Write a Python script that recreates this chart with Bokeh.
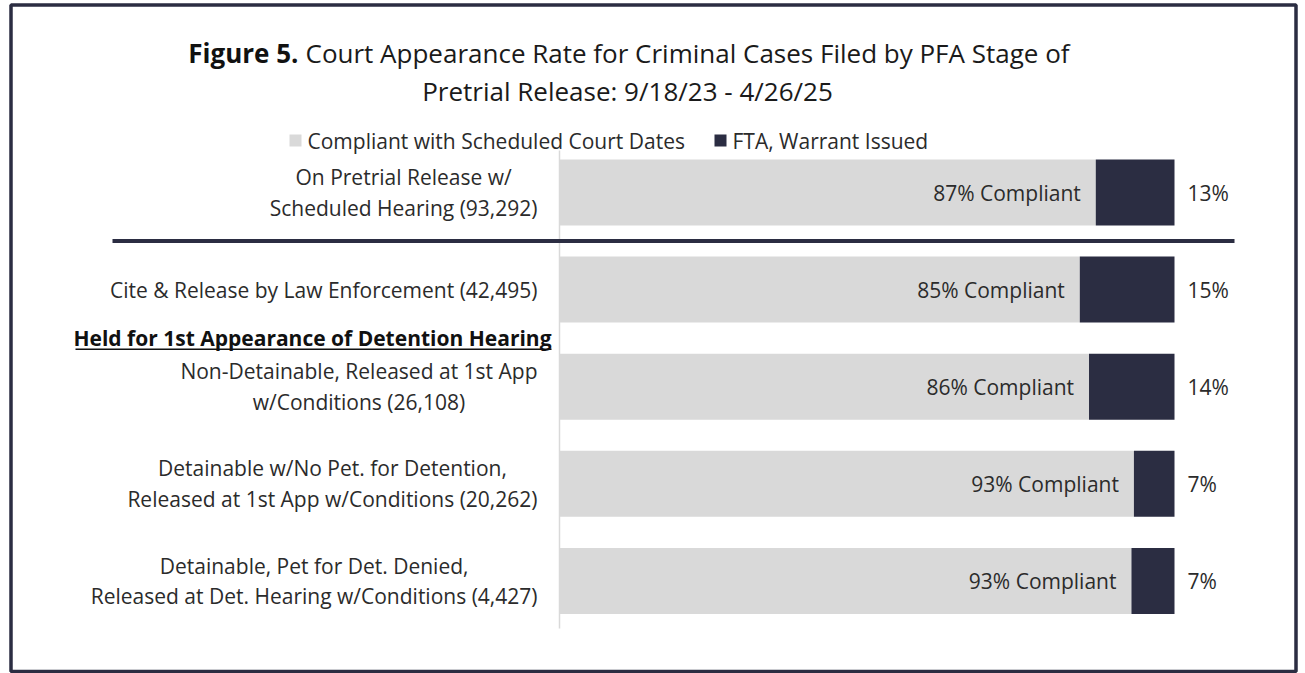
from bokeh.plotting import figure
from bokeh.models import Range1d, ColumnDataSource
from bokeh.core.properties import value
from bokeh.embed import file_html
from bokeh.resources import INLINE

# ---------------- data ----------------
categories = [
    "On Pretrial Release w/\nScheduled Hearing (93,292)",
    "Cite & Release by Law Enforcement (42,495)",
    "Non-Detainable, Released at 1st App\nw/Conditions (26,108)",
    "Detainable w/No Pet. for Detention,\nReleased at 1st App w/Conditions (20,262)",
    "Detainable, Pet for Det. Denied,\nReleased at Det. Hearing w/Conditions (4,427)",
]
compliant_pct = [87.2, 84.6, 86.1, 93.4, 93.0]
fta_pct = [12.8, 15.4, 13.9, 6.6, 7.0]
group_header = "Held for 1st Appearance of Detention Hearing"
legend_labels = ["Compliant with Scheduled Court Dates", "FTA, Warrant Issued"]
title_bold = "Figure 5."
title_rest = "Court Appearance Rate for Criminal Cases Filed by PFA Stage of"
title_line2 = "Pretrial Release: 9/18/23 - 4/26/25"

LIGHT = "#d9d9d9"
DARK = "#2b2d42"
TEXT = "#2b2b2b"
FONT = value("Open Sans")

# ---------------- geometry (pixel layout -> data mapping) ----------------
W, H = 1300, 673
X0_PX, PX_PER_PCT = 559.0, 6.15      # px of 0 %, px per %
Y0_PX, PX_PER_ROW = 192.0, 97.1      # px of row 0 centre, px per row


def dx(px):
    return (px - X0_PX) / PX_PER_PCT


def dy(py):
    return (py - Y0_PX) / PX_PER_ROW


x_range = Range1d(dx(0), dx(W))
y_range = Range1d(dy(H), dy(0))

p = figure(width=W, height=H, x_range=x_range, y_range=y_range,
           output_backend="svg", toolbar_location=None, min_border=0,
           x_axis_location=None, y_axis_location=None)
p.grid.grid_line_color = None
p.outline_line_color = None
p.background_fill_color = "white"
p.border_fill_color = "white"

rows = list(range(len(categories)))
ends = [c + f for c, f in zip(compliant_pct, fta_pct)]
src = ColumnDataSource(dict(
    row=rows,
    cat=categories,
    compliant=compliant_pct,
    fta=fta_pct,
    end=ends,
    comp_label=[f"{round(v)}% Compliant" for v in compliant_pct],
    fta_label=[f"{round(v)}%" for v in fta_pct],
))

# outer frame
p.quad(left=dx(10.5), right=dx(1295.5), top=dy(4.5), bottom=dy(671),
       fill_color=None, line_color=DARK, line_width=3.5)

# vertical axis line
p.segment(x0=0, x1=0, y0=dy(150), y1=dy(628), line_color=LIGHT, line_width=1.5)

# bars
p.hbar(y="row", left=0, right="compliant", height=0.68, source=src,
       fill_color=LIGHT, line_color=None)
p.hbar(y="row", left="compliant", right="end", height=0.68, source=src,
       fill_color=DARK, line_color=None)

# separator between first row and the rest
p.segment(x0=dx(112), x1=dx(1234), y0=0.5, y1=0.5, line_color=DARK,
          line_width=4, line_cap="butt")

# bar labels
p.text(x="compliant", y="row", text="comp_label", source=src, x_offset=-15,
       text_align="right", text_baseline="middle", text_font=FONT,
       text_font_size="21px", text_color=TEXT)
p.text(x="end", y="row", text="fta_label", source=src, x_offset=13,
       text_align="left", text_baseline="middle", text_font=FONT,
       text_font_size="21px", text_color=TEXT)

# category labels
p.text(x=dx(537), y="row", text="cat", source=src, anchor="center_right",
       text_align="center", text_baseline="middle", text_line_height=1.1,
       text_font=FONT, text_font_size="21px", text_color=TEXT)

# group header (bold, underlined)
p.text(x=[dx(551)], y=[1.5], text=[group_header], text_align="right",
       text_baseline="middle", text_font=FONT, text_font_size="21px",
       text_font_style="bold", text_color="#111111")
p.segment(x0=dx(75), x1=dx(551), y0=1.5 + 11 / PX_PER_ROW, y1=1.5 + 11 / PX_PER_ROW,
          line_color="#111111", line_width=1.5)

# title
p.text(x=[dx(298)], y=[dy(52)], text=[title_bold], text_align="right",
       text_baseline="middle", text_font=FONT, text_font_size="26px",
       text_font_style="bold", text_color="#111111")
p.text(x=[dx(305)], y=[dy(52)], text=[title_rest], text_align="left",
       text_baseline="middle", text_font=FONT, text_font_size="26px",
       text_color="#1a1a1a")
p.text(x=[dx(627)], y=[dy(90)], text=[title_line2], text_align="center",
       text_baseline="middle", text_font=FONT, text_font_size="26px",
       text_color="#1a1a1a")

# legend
p.scatter(x=[dx(295), dx(720)], y=[dy(140), dy(140)], marker="square", size=12,
          fill_color=[LIGHT, DARK], line_color=None)
p.text(x=[dx(307), dx(732)], y=[dy(140), dy(140)], text=legend_labels,
       text_align="left", text_baseline="middle", text_font=FONT,
       text_font_size="21px", text_color=TEXT)

open("out.html", "w").write(file_html(p, INLINE))
